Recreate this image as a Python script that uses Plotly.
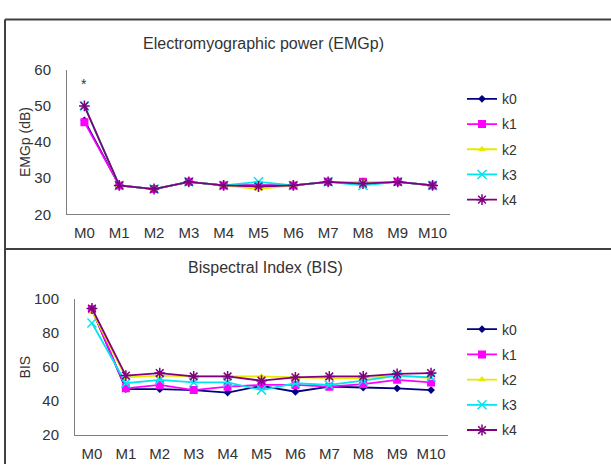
import plotly.graph_objects as go

W, H = 611, 472
categories = ["M0", "M1", "M2", "M3", "M4", "M5", "M6", "M7", "M8", "M9", "M10"]
series_names = ["k0", "k1", "k2", "k3", "k4"]

emg_k0 = [46, 28, 27, 29, 28, 28, 28, 29, 28.5, 29, 28]
emg_k1 = [45.5, 28, 27, 29, 28, 28, 28, 29, 29, 29, 28]
emg_k2 = [50, 28, 27, 29, 28, 27, 28, 29, 29, 29, 28]
emg_k3 = [50, 28, 27, 29, 28, 29, 28, 29, 28, 29, 28]
emg_k4 = [50, 28, 27, 29, 28, 27.7, 28, 29, 28.5, 29, 28]

bis_k0 = [94, 47, 47, 46.5, 45, 49, 45.5, 48.5, 48, 47.5, 46.5]
bis_k1 = [94, 47.5, 49.5, 46.5, 48.5, 49.5, 49.5, 48.5, 50, 52.5, 51]
bis_k2 = [93, 54, 55, 54.5, 54.5, 54.5, 54, 53.5, 53.5, 55, 53.5]
bis_k3 = [86, 50.5, 52.5, 51, 51, 46.5, 50.5, 49.5, 52, 55, 54]
bis_k4 = [94.5, 55, 56.5, 54.5, 54.5, 52, 54, 54.5, 54.5, 56, 56.5]

colors = ["#000080", "#FF00FF", "#E8E800", "#00E5EE", "#800080"]
symbols = ["diamond", "square", "triangle-up", "x-thin-open", "asterisk-open"]
msizes = [6, 8, 7, 9, 9]

fig = go.Figure()

def add_set(data, xa, ya, legend):
    for i, (name, vals) in enumerate(zip(series_names, data)):
        open_sym = symbols[i].endswith("open")
        fig.add_trace(go.Scatter(
            x=categories, y=vals, name=name, mode="lines+markers",
            xaxis=xa, yaxis=ya, legend=legend, legendgroup=legend + name,
            line=dict(color=colors[i], width=1.8),
            marker=dict(symbol=symbols[i], size=msizes[i], color=colors[i],
                        line=dict(color=colors[i], width=1.5 if open_sym else 0)),
        ))

add_set([emg_k0, emg_k1, emg_k2, emg_k3, emg_k4], "x", "y", "legend")
add_set([bis_k0, bis_k1, bis_k2, bis_k3, bis_k4], "x2", "y2", "legend2")

def py(p):
    return 1 - p / H

def px(p):
    return p / W

TXT = "#333333"
font = dict(family="Liberation Sans, Arial, sans-serif", size=15, color=TXT)
axis_common = dict(showgrid=False, zeroline=False, showline=True, linecolor="#808080",
                   linewidth=1, ticks="", tickfont=dict(size=15, color=TXT))
xcommon = dict(type="category", range=[-0.5, 10.5], ticklabelstandoff=5, **axis_common)
ycommon = dict(ticklabelstandoff=12, **axis_common)

fig.update_layout(
    width=W, height=H, margin=dict(l=0, r=0, t=0, b=0),
    paper_bgcolor="white", plot_bgcolor="white", font=font,
    xaxis=dict(domain=[px(67), px(450)], anchor="y", **xcommon),
    yaxis=dict(domain=[py(213), py(63)], anchor="x", range=[20, 60], dtick=10,
               title=dict(text="EMGp (dB)", font=dict(size=14), standoff=0), **ycommon),
    xaxis2=dict(domain=[px(75), px(448)], anchor="y2", **xcommon),
    yaxis2=dict(domain=[py(442), py(301)], anchor="x2", range=[20, 100], dtick=20,
                title=dict(text="BIS", font=dict(size=14), standoff=0), **ycommon),
    legend=dict(x=px(462), y=py(77), xanchor="left", yanchor="top",
                traceorder="grouped", tracegroupgap=4, font=dict(size=14),
                bgcolor="rgba(0,0,0,0)", itemwidth=30),
    legend2=dict(x=px(462), y=py(316), xanchor="left", yanchor="top",
                 traceorder="grouped", tracegroupgap=4, font=dict(size=14),
                 bgcolor="rgba(0,0,0,0)", itemwidth=30),
    showlegend=True,
)

fig.add_annotation(text="Electromyographic power (EMGp)", x=px(263), y=py(25),
                   xref="paper", yref="paper", showarrow=False,
                   font=dict(size=16, color=TXT))
fig.add_annotation(text="Bispectral Index (BIS)", x=px(265), y=py(268),
                   xref="paper", yref="paper", showarrow=False,
                   font=dict(size=16, color=TXT))
fig.add_annotation(text="*", x="M0", y=56, xref="x", yref="y", showarrow=False,
                   font=dict(size=14, color=TXT))

border = dict(color="#404040", width=2)
fig.add_shape(type="line", xref="paper", yref="paper", x0=px(5), x1=1, y0=py(11), y1=py(11), line=border)
fig.add_shape(type="line", xref="paper", yref="paper", x0=px(5), x1=px(5), y0=py(11), y1=0, line=border)
fig.add_shape(type="line", xref="paper", yref="paper", x0=px(5), x1=1, y0=py(249), y1=py(249), line=border)

fig.write_html("out.html")
